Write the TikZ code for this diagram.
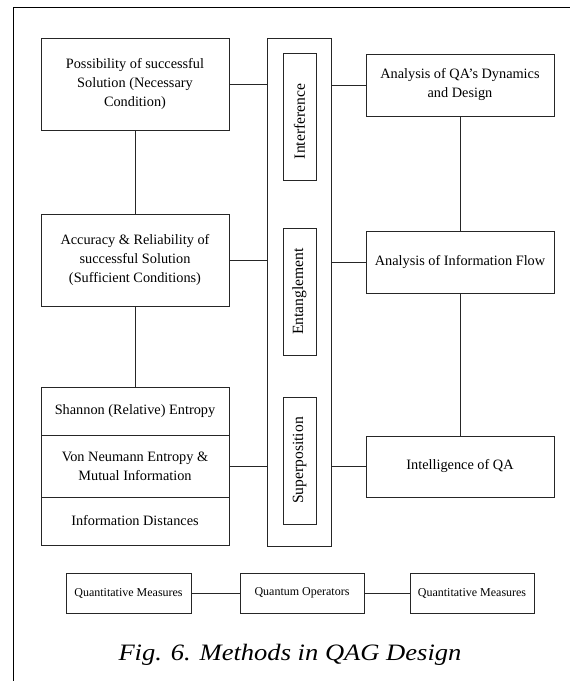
\documentclass[tikz,border=0pt]{standalone}
\usepackage{fontspec}
\setmainfont{Liberation Serif}
\begin{document}
\begin{tikzpicture}[x=1pt,y=-1pt,
  box/.style={draw=black!85, line width=0.8pt, rectangle, inner sep=0pt, align=center,
    font=\fontsize{14.3}{19}\selectfont},
  vbox/.style={box, rotate=90, font=\fontsize{15.6}{18}\selectfont},
  sbox/.style={box, font=\fontsize{12}{14}\selectfont},
  conn/.style={draw=black!85, line width=0.8pt}]
\useasboundingbox (0,0) rectangle (570,681);
\clip (0,0) rectangle (570,681);
\draw[line width=1pt] (13,7) rectangle (620,720);
% left column
\node[box, minimum width=188pt, minimum height=92pt] (A) at (135,84)
  {Possibility of successful\\Solution (Necessary\\Condition)};
\node[box, minimum width=188pt, minimum height=92pt] (B) at (135,260)
  {Accuracy \& Reliability of\\successful Solution\\(Sufficient Conditions)};
\node[box, minimum width=188pt, minimum height=48pt] (S1) at (135,411)
  {Shannon (Relative) Entropy};
\node[box, minimum width=188pt, minimum height=62pt] (S2) at (135,466)
  {Von Neumann Entropy \&\\Mutual Information};
\node[box, minimum width=188pt, minimum height=48pt] (S3) at (135,521)
  {Information Distances};
% middle column
\node[box, minimum width=64pt, minimum height=508pt] (M) at (299,292) {};
\node[vbox, minimum width=127pt, minimum height=33pt] (I1) at (299.5,116.5) {Interference\hspace*{10pt}};
\node[vbox, minimum width=127pt, minimum height=33pt] (I2) at (299.5,291.5) {Entanglement};
\node[vbox, minimum width=127pt, minimum height=33pt] (I3) at (299.5,460.5) {Superposition};
% right column
\node[box, minimum width=188pt, minimum height=62pt] (C) at (460,85)
  {Analysis of QA’s Dynamics\\and Design};
\node[box, minimum width=188pt, minimum height=62pt] (D) at (460,262)
  {Analysis of Information Flow};
\node[box, minimum width=188pt, minimum height=61pt] (E) at (460,466.5)
  {Intelligence of QA};
% bottom legend
\node[sbox, minimum width=125pt, minimum height=40pt] (L1) at (128.5,593) {Quantitative Measures};
\node[sbox, minimum width=124pt, minimum height=40pt] (L2) at (302,593) {Quantum Operators};
\node[sbox, minimum width=124pt, minimum height=40pt] (L3) at (472,593) {Quantitative Measures};
% caption
\node[font=\fontsize{23.5}{26}\itshape\selectfont, inner sep=0pt] (cap) at (290,655)
  {\scalebox{1.13}[1]{Fig. 6. Methods in QAG Design}};
% connectors
\draw[conn] (A) -- (B);
\draw[conn] (B) -- (S1);
\draw[conn] (A.east) -- (A.east -| M.west);
\draw[conn] (B.east) -- (B.east -| M.west);
\draw[conn] (S2.east) -- (S2.east -| M.west);
\draw[conn] (C.west) -- (C.west -| M.east);
\draw[conn] (D.west) -- (D.west -| M.east);
\draw[conn] (E.west) -- (E.west -| M.east);
\draw[conn] (C) -- (D);
\draw[conn] (D) -- (E);
\draw[conn] (L1) -- (L2);
\draw[conn] (L2) -- (L3);
\end{tikzpicture}
\end{document}
